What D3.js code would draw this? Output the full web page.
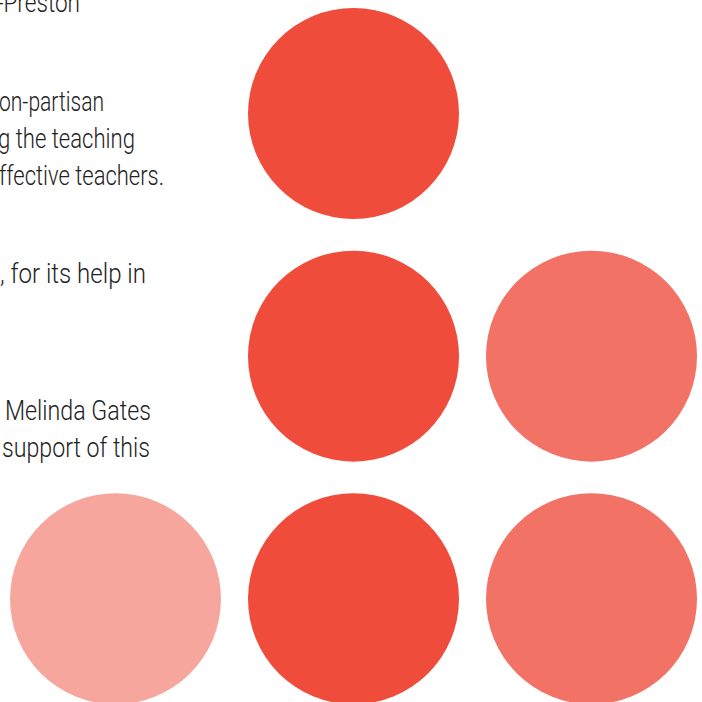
<!DOCTYPE html>
<html><head><meta charset="utf-8">
<script src="https://cdn.jsdelivr.net/npm/d3@7"></script>
<style>html,body{margin:0;padding:0;background:#fff;overflow:hidden}</style>
</head><body>
<svg id="chart" width="702" height="702"></svg>
<script>
// Data
const rowIndex = [0, 1, 1, 2, 2, 2];
const colIndex = [1, 1, 2, 0, 1, 2];
const groups   = ["Group A", "Group A", "Group B", "Group C", "Group A", "Group B"];
const groupNames = ["Group A", "Group B", "Group C"];
const textLines = [
  "-Preston",
  "on-partisan",
  "g the teaching",
  "ffective teachers.",
  ", for its help in",
  "Melinda Gates",
  "support of this"
];
const textBaselines = [12, 111, 148, 185, 283, 420, 457];
const textLeft  = [-3, -1, -2, -1, 0, 5, 2];
const textRight = [80, 104, 135, 164, 146, 151, 150];

const svg = d3.select("#chart");
const x = d3.scaleLinear().domain([0, 2]).range([115.5, 591.5]);
const y = d3.scaleLinear().domain([0, 2]).range([113.5, 598.8]);
const color = d3.scaleOrdinal().domain(groupNames).range(["#f04c3c", "#f27366", "#f7a69e"]);
const r = 105.5;

svg.append("g").selectAll("text").data(textLines).join("text")
  .attr("x", (d, i) => textLeft[i])
  .attr("y", (d, i) => textBaselines[i])
  .attr("textLength", (d, i) => textRight[i] - textLeft[i])
  .attr("lengthAdjust", "spacingAndGlyphs")
  .attr("font-family", "Roboto, 'Liberation Sans', sans-serif")
  .attr("font-weight", 300)
  .attr("font-size", 28)
  .attr("fill", "#222")
  .text(d => d);

const cells = rowIndex.map((rw, i) => ({row: rw, col: colIndex[i], group: groups[i]}));
svg.append("g").selectAll("circle").data(cells).join("circle")
  .attr("cx", d => x(d.col))
  .attr("cy", d => y(d.row))
  .attr("r", r)
  .attr("fill", d => color(d.group));
</script>
</body></html>
